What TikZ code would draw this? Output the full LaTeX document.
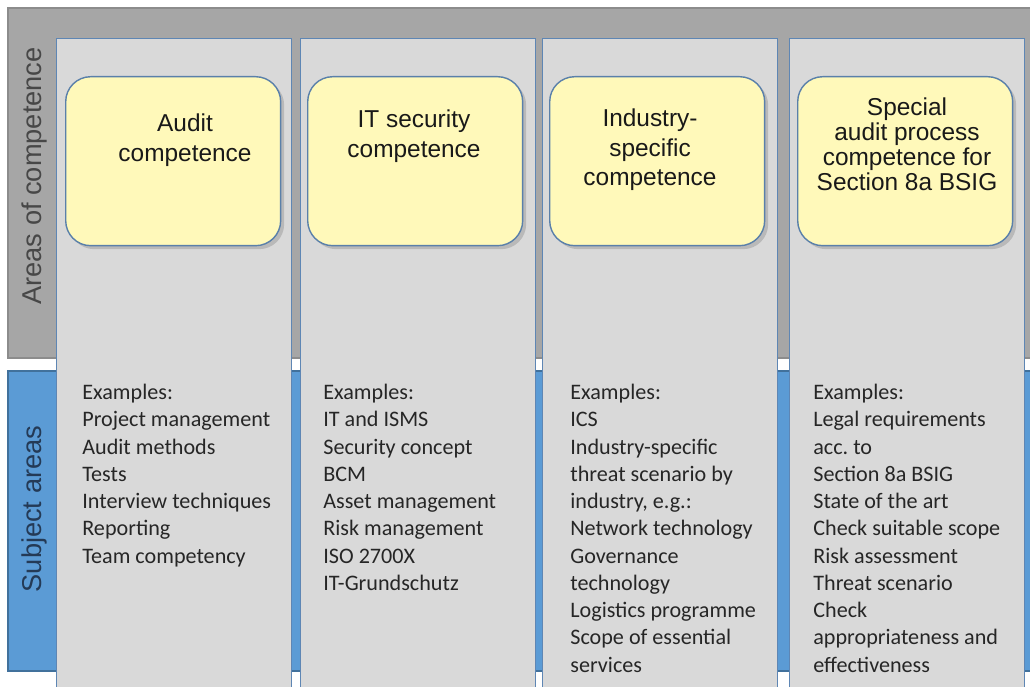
\documentclass[tikz,border=0pt]{standalone}
\usepackage{fontspec}
\setmainfont{Liberation Sans}
\newfontfamily\calib{Carlito}
\usetikzlibrary{shadows}
\frenchspacing
\definecolor{bandgray}{HTML}{A6A6A6}
\definecolor{bandline}{HTML}{8C8C8C}
\definecolor{bandblue}{HTML}{5B9BD5}
\definecolor{blueline}{HTML}{41719C}
\definecolor{colfill}{HTML}{D9D9D9}
\definecolor{colline}{HTML}{5E86B4}
\definecolor{boxfill}{HTML}{FFF9BA}
\definecolor{boxline}{HTML}{5A80AA}
\definecolor{subjcol}{HTML}{243A56}
\tikzset{
  column/.style={draw=colline, fill=colfill, line width=0.8pt, anchor=north west,
    minimum width=4.7cm, minimum height=13.3cm, inner sep=0pt},
  compbox/.style={draw=boxline, fill=boxfill, line width=0.8pt, rounded corners=0.5cm,
    minimum width=4.3cm, minimum height=3.38cm, anchor=north west, inner sep=0pt,
    drop shadow={shadow xshift=0.07cm, shadow yshift=-0.07cm, opacity=0.35}},
  comptext/.style={align=center, text=black!90},
  subjtext/.style={align=left, anchor=north west, inner sep=0pt, text=black!85,
    font=\calib\fontsize{12.6}{15.5}\selectfont},
  sidelabel/.style={rotate=90, font=\fontsize{15.5}{18}\selectfont}
}
\begin{document}
\begin{tikzpicture}[x=0.02cm, y=-0.02cm]
  \useasboundingbox (0,0) rectangle (1030,686);
  \clip (0,0) rectangle (1030,686);
  % bands
  \draw[fill=bandgray, draw=bandline, line width=0.8pt] (8,8) rectangle (1040,358);
  \draw[fill=bandblue, draw=blueline, line width=0.8pt] (8,371) rectangle (1040,671);
  \node[sidelabel, text=black!72] (areas) at (34,176) {Areas of competence};
  \node[sidelabel, text=subjcol] (subj) at (34,509) {Subject areas};
  % columns
  \node[column] (col1) at (56,38) {};
  \node[column] (col2) at (300,38) {};
  \node[column] (col3) at (542,38) {};
  \node[column] (col4) at (789,38) {};
  % competence boxes
  \node[compbox] (box1) at (65,76) {};
  \node[compbox] (box2) at (307,76) {};
  \node[compbox] (box3) at (549,76) {};
  \node[compbox] (box4) at (797,76) {};
  \node[comptext, font=\fontsize{13.9}{17}\selectfont] (t1) at (185,140) {Audit\\competence};
  \node[comptext, font=\fontsize{13.9}{17}\selectfont] (t2) at (414,136) {IT security\\competence};
  \node[comptext, font=\fontsize{13.9}{16.7}\selectfont] (t3) at (650,150) {Industry-\\specific\\competence};
  \node[comptext, font=\fontsize{13.9}{14.3}\selectfont] (t4) at (907,144) {Special\\audit process\\competence for\\Section 8a BSIG};
  % subject areas
  \node[subjtext] (s1) at (82,384) {Examples:\\Project management\\Audit methods\\Tests\\Interview techniques\\Reporting\\Team competency};
  \node[subjtext] (s2) at (323,384) {Examples:\\IT and ISMS\\Security concept\\BCM\\Asset management\\Risk management\\ISO 2700X\\IT-Grundschutz};
  \node[subjtext] (s3) at (570,384) {Examples:\\ICS\\Industry-specific\\threat scenario by\\industry, e.g.:\\Network technology\\Governance\\technology\\Logistics programme\\Scope of essential\\services};
  \node[subjtext] (s4) at (813,384) {Examples:\\Legal requirements\\acc. to\\Section 8a BSIG\\State of the art\\Check suitable scope\\Risk assessment\\Threat scenario\\Check\\appropriateness and\\effectiveness};
\end{tikzpicture}
\end{document}
